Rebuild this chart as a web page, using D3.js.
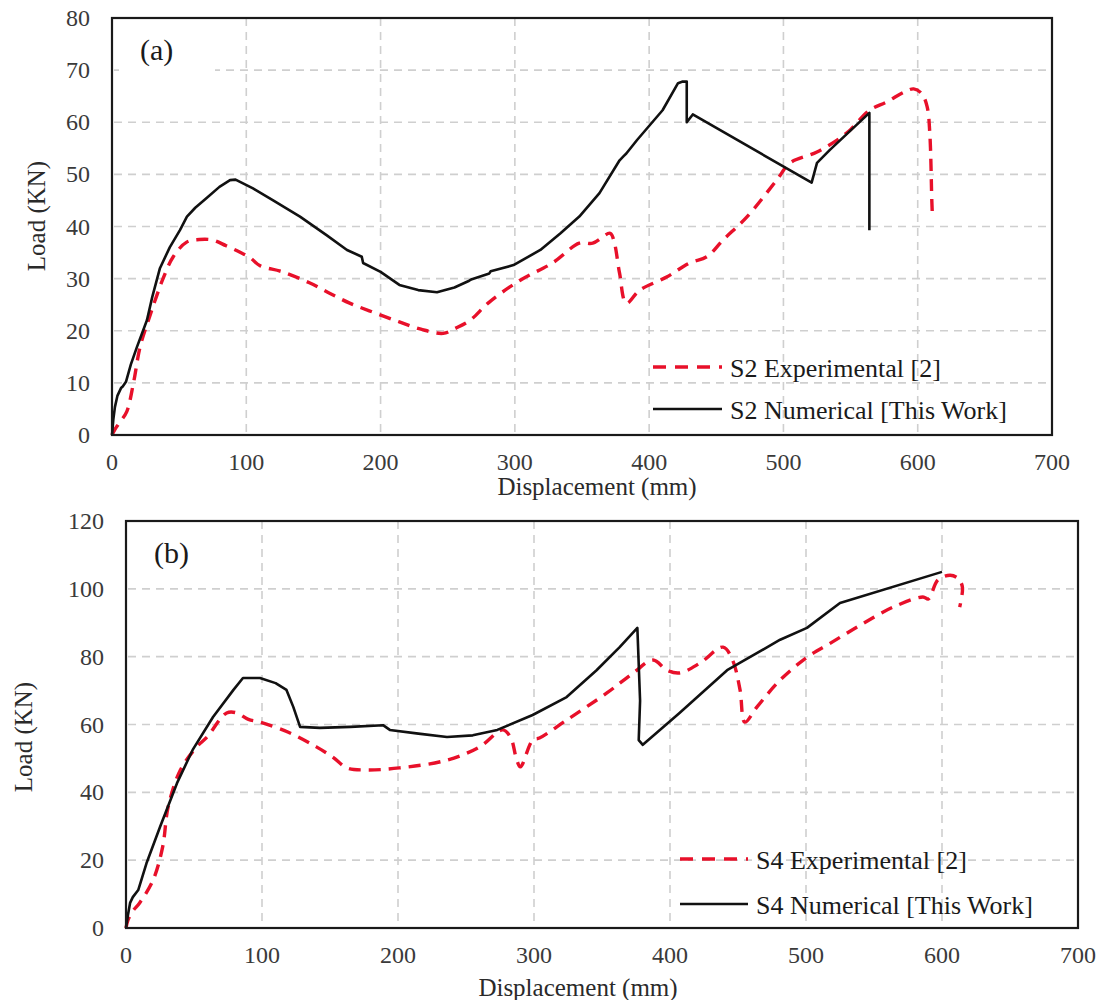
<!DOCTYPE html>
<html>
<head>
<meta charset="utf-8">
<script src="https://cdn.jsdelivr.net/npm/d3@7"></script>
<style>
  body { margin: 0; background: #fff; }
  svg { display: block; }
  .tick-label { font-family: "Liberation Serif", serif; font-size: 24px; fill: #3a3a3a; }
  .axis-title { font-family: "Liberation Serif", serif; font-size: 25px; fill: #2a2a2a; }
  .legend-text { font-family: "Liberation Serif", serif; font-size: 26px; fill: #1a1a1a; }
  .panel-tag { font-family: "Liberation Serif", serif; font-size: 30px; fill: #1a1a1a; }
</style>
</head>
<body>
<svg id="chart" width="1103" height="1000"></svg>
<script>
// displacement (mm), load (kN) pairs
var s2Experimental = [
  [0, 0], [2, 1], [6, 2.5], [11, 4.5], [16, 10], [21, 17], [28, 22.7], [33, 26.5], [38, 30],
  [45.6, 34.2], [55.6, 37], [65, 37.5], [75, 37.4], [85, 36.3], [95, 35.1], [103, 34], [110, 32.5],
  [127, 31.3], [147, 29.2], [162, 27.2], [177, 25.3], [195, 23.5], [214, 21.7], [230, 20.3],
  [246.6, 19.5], [256, 20.5], [266.6, 22], [281, 25.5], [304, 29.7], [328, 33], [348, 36.8],
  [358, 36.8], [371, 38.7], [374, 37], [378, 31], [383, 25.3], [393, 27.8], [413, 30.3], [430, 33],
  [443, 34.2], [455, 37.4], [473, 41.9], [495, 48.9], [505, 52.2], [525, 54.3], [547, 57.9],
  [564, 62.3], [577, 63.9], [590, 65.8], [597, 66.4], [603, 65.5], [607, 63], [609, 57.9],
  [610.5, 45], [611, 41.6]
];
var s2Numerical = [
  [0, 0], [1, 3], [2.2, 5.4], [4, 7.5], [6.7, 9], [8, 9.3], [10.4, 10.2], [14, 13.5], [18.6, 16.9],
  [26, 22], [30, 26.5], [35.7, 32], [43, 36], [50.6, 39.3], [55.8, 41.9], [62, 43.6], [70.7, 45.5],
  [80, 47.6], [87.9, 48.9], [92, 49], [105, 47.3], [120, 45], [140, 41.9], [160, 38.3], [175, 35.5],
  [186, 34.2], [187, 33], [200, 31.3], [214, 28.8], [228, 27.8], [242, 27.4], [255, 28.3], [266, 29.6],
  [268, 29.9], [281, 31], [282, 31.4], [299, 32.6], [319, 35.5], [334, 38.7], [348, 41.9], [363, 46.4],
  [378, 52.7], [381, 53.5], [383, 54], [391, 56.6], [410, 62.3], [421.5, 67.5], [425, 67.8],
  [428, 67.8], [428, 60], [432.5, 61.5], [521, 48.4], [525, 52.2], [534.6, 54.7], [564, 61.8],
  [564, 39.3]
];
var s4Experimental = [
  [0, 0], [1.5, 2.4], [5, 5], [10, 7.4], [20, 14.2], [27, 24], [31, 35.7], [40, 46.6], [52, 53.4],
  [59.6, 56.3], [74, 63.4], [81.6, 63.4], [90, 61.5], [98.5, 60.7], [120.6, 57.5], [140, 53.4],
  [152, 50.4], [162.5, 47.2], [177, 46.6], [201, 47.2], [236, 49.5], [260, 53.4], [277, 58.4],
  [283, 56], [287, 50], [290, 47.5], [299, 55.4], [304, 56], [324, 61.3], [353.6, 69.3], [373, 75.2],
  [387.5, 79], [397.8, 76], [407, 75.2], [422, 78.1], [439, 82.8], [446, 79], [451.5, 70.2],
  [455, 60.7], [464, 65.2], [481, 73.1], [501, 79.9], [518, 84], [540, 89.3], [564, 94.6],
  [586, 97.6], [590, 97], [597, 102.6], [606, 104], [612, 103], [615, 100.5], [613, 94.6]
];
var s4Numerical = [
  [0, 0], [1.5, 4], [3, 7.4], [5, 9.1], [9, 11.2], [15, 19], [25, 29.8], [37.5, 42.7], [49, 52.5],
  [64, 62.2], [79, 70.2], [86, 73.7], [98.5, 73.7], [110, 72.2], [118, 70.2], [123, 65.2], [128, 59.3],
  [142.6, 59], [165, 59.3], [189, 59.8], [194, 58.4], [215, 57.3], [236, 56.3], [255, 56.8],
  [273, 58.4], [299, 62.8], [324, 68.1], [346, 76], [363, 82.8], [376, 88.5], [378, 67], [377, 55.4],
  [380, 54], [407, 63.4], [442, 76], [481, 85], [500.7, 88.5], [525, 95.8], [600, 105]
];

var xTicks = [0, 100, 200, 300, 400, 500, 600, 700];
var yTicksA = [0, 10, 20, 30, 40, 50, 60, 70, 80];
var yTicksB = [0, 20, 40, 60, 80, 100, 120];

var svg = d3.select('#chart');

function drawPanel(cfg) {
  var g = svg.append('g');
  var x = d3.scaleLinear().domain([0, 700]).range([cfg.left, cfg.right]);
  var y = d3.scaleLinear().domain([0, cfg.yMax]).range([cfg.bottom, cfg.top]);

  // grid
  g.selectAll('.vgrid').data(xTicks.slice(1, -1)).enter().append('line')
    .attr('x1', x).attr('x2', x).attr('y1', cfg.top).attr('y2', cfg.bottom)
    .attr('stroke', '#cfcfcf').attr('stroke-width', 1.6).attr('stroke-dasharray', '8,6');
  g.selectAll('.hgrid').data(cfg.yTicks.slice(1, -1)).enter().append('line')
    .attr('x1', cfg.left + 2).attr('x2', cfg.right).attr('y1', y).attr('y2', y)
    .attr('stroke', '#cfcfcf').attr('stroke-width', 1.6).attr('stroke-dasharray', '8,6');

  // white box behind the panel tag
  g.append('rect')
    .attr('x', cfg.left + 7).attr('y', cfg.top + 6).attr('width', 96).attr('height', 52)
    .attr('fill', '#fff');
  g.append('text').attr('class', 'panel-tag')
    .attr('x', cfg.left + 28).attr('y', cfg.top + 42).text(cfg.tag);

  // tick labels
  g.selectAll('.xl').data(xTicks).enter().append('text').attr('class', 'tick-label')
    .attr('x', x).attr('y', cfg.bottom + 35).attr('text-anchor', 'middle').text(String);
  g.selectAll('.yl').data(cfg.yTicks).enter().append('text').attr('class', 'tick-label')
    .attr('x', cfg.left - 22).attr('y', function(d) { return y(d) + 8; })
    .attr('text-anchor', 'end').text(String);

  // axis titles
  g.append('text').attr('class', 'axis-title')
    .attr('x', cfg.xTitleX).attr('y', cfg.xTitleY).attr('text-anchor', 'middle')
    .text('Displacement (mm)');
  g.append('text').attr('class', 'axis-title')
    .attr('transform', 'translate(' + cfg.yTitleX + ',' + cfg.yTitleY + ') rotate(-90)')
    .attr('text-anchor', 'middle').text('Load (KN)');

  var line = d3.line().x(function(d) { return x(d[0]); }).y(function(d) { return y(d[1]); });
  var smooth = d3.line().curve(d3.curveCatmullRom.alpha(0.5))
    .x(function(d) { return x(d[0]); }).y(function(d) { return y(d[1]); });

  g.append('path').datum(cfg.exp).attr('d', smooth)
    .attr('fill', 'none').attr('stroke', '#e8102a').attr('stroke-width', 3.4)
    .attr('stroke-dasharray', '12,8').attr('stroke-linejoin', 'round');
  g.append('path').datum(cfg.num).attr('d', line)
    .attr('fill', 'none').attr('stroke', '#111').attr('stroke-width', 2.6)
    .attr('stroke-linejoin', 'round');

  // frame
  g.append('rect')
    .attr('x', cfg.left).attr('y', cfg.top)
    .attr('width', cfg.right - cfg.left).attr('height', cfg.bottom - cfg.top)
    .attr('fill', 'none').attr('stroke', '#1a1a1a').attr('stroke-width', 2.2);

  // legend
  var lg = cfg.legend;
  g.append('line').attr('x1', lg.x0).attr('x2', lg.x1).attr('y1', lg.y0).attr('y2', lg.y0)
    .attr('stroke', '#e8102a').attr('stroke-width', 3.4).attr('stroke-dasharray', '13,9');
  g.append('text').attr('class', 'legend-text').attr('x', lg.x1 + 8).attr('y', lg.y0 + 10)
    .text(cfg.expName);
  g.append('line').attr('x1', lg.x0).attr('x2', lg.x1).attr('y1', lg.y1).attr('y2', lg.y1)
    .attr('stroke', '#111').attr('stroke-width', 2.6);
  g.append('text').attr('class', 'legend-text').attr('x', lg.x1 + 8).attr('y', lg.y1 + 10)
    .text(cfg.numName);
}

drawPanel({
  left: 112, right: 1052, top: 18, bottom: 435, yMax: 80, yTicks: yTicksA,
  tag: '(a)', exp: s2Experimental, num: s2Numerical,
  expName: 'S2 Experimental [2]', numName: 'S2 Numerical [This Work]',
  xTitleX: 597, xTitleY: 495, yTitleX: 45, yTitleY: 216,
  legend: { x0: 653, x1: 722, y0: 367, y1: 409 }
});

drawPanel({
  left: 126, right: 1078, top: 521, bottom: 928, yMax: 120, yTicks: yTicksB,
  tag: '(b)', exp: s4Experimental, num: s4Numerical,
  expName: 'S4 Experimental [2]', numName: 'S4 Numerical [This Work]',
  xTitleX: 578, xTitleY: 996, yTitleX: 32, yTitleY: 737,
  legend: { x0: 680, x1: 748, y0: 859, y1: 904 }
});
</script>
</body>
</html>
